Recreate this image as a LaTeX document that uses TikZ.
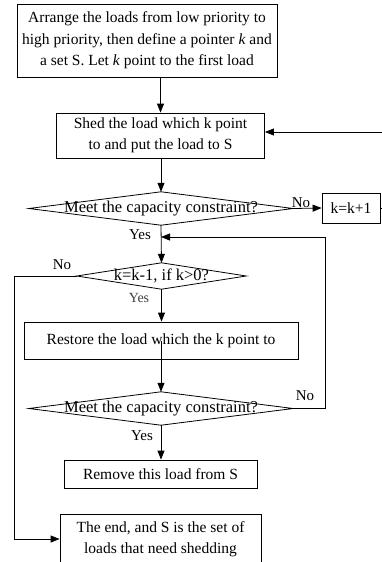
\documentclass[tikz,border=0pt]{standalone}
\usepackage{fontspec}
\setmainfont{Liberation Serif}
\usetikzlibrary{arrows.meta}
\tikzset{
  box/.style={draw, line width=0.8pt, inner sep=0pt, align=center, font=\fontsize{15.5}{21.5}\selectfont},
  dtext/.style={draw=none, inner sep=0pt, font=\fontsize{16.5}{21.5}\selectfont},
  lab/.style={inner sep=0pt, font=\fontsize{15}{16}\selectfont},
  lab2/.style={inner sep=0pt, text=black!75, font=\fontsize{14}{15}\selectfont},
  conn/.style={line width=0.8pt},
  arr/.style={line width=0.8pt, -{Triangle[length=9pt,width=7pt]}},
  dia/.style={draw, line width=0.8pt}
}
\begin{document}
\begin{tikzpicture}[x=1pt,y=-1pt]
\path[use as bounding box, clip] (0,0) rectangle (382,562);
\fill[white] (0,0) rectangle (382,562);
% nodes
\node[box, minimum width=260pt, minimum height=73pt] (b1) at (147,40.5)
  {Arrange the loads from low priority to\\high priority, then define a pointer \textit{k} and\\a set S. Let \textit{k} point to the first load};
\node[box, minimum width=208pt, minimum height=45pt] (b2) at (160.5,135.5)
  {Shed the load which k point\\to and put the load to S};
\node[dtext, minimum width=264pt, minimum height=33pt] (d1) at (161,208.5) {Meet the capacity constraint?};
\node[box, minimum width=58pt, minimum height=30pt] (b3) at (351,208) {k=k+1};
\node[dtext, minimum width=169pt, minimum height=26pt] (d2) at (161.5,276) {k=k-1, if k>0?};
\node[box, minimum width=274pt, minimum height=37pt] (b4) at (161,340.5) {Restore the load which the k point to};
\node[dtext, minimum width=264pt, minimum height=33pt] (d3) at (161,408.5) {Meet the capacity constraint?};
\node[box, minimum width=193pt, minimum height=28pt] (b5) at (160.5,474) {Remove this load from S};
\node[box, minimum width=201pt, minimum height=50pt] (b6) at (160.5,539) {The end, and S is the set of\\loads that need shedding};
% diamonds
\draw[dia] (d1.west) -- (d1.north) -- (d1.east) -- (d1.south) -- cycle;
\draw[dia] (d2.west) -- (d2.north) -- (d2.east) -- (d2.south) -- cycle;
\draw[dia] (d3.west) -- (d3.north) -- (d3.east) -- (d3.south) -- cycle;
% coordinates
\coordinate (rtop) at (392,132);
\coordinate (rbot) at (392,208);
\coordinate (loopR) at (325,237);
\coordinate (loopL) at (14,276);
% labels
\node[lab] (no1) at (301,203) {No};
\node[lab] (yes1) at (140,235) {Yes};
\node[lab] (no2) at (62,265) {No};
\node[lab2] (yes2) at (139,298) {Yes};
\node[lab] (no3) at (305,396) {No};
\node[lab] (yes3) at (142,436) {Yes};
% connectors
\draw[arr] (b2.north |- b1.south) -- (b2.north);
\draw[arr] (b2.south -| d1.north) -- (d1.north);
\draw[arr] (d1.east) -- (b3.west);
\draw[conn] (b3.east) -- (rbot);
\draw[arr] (rtop) -- (rtop -| b2.east);
\draw[arr] (d1.south) -- (d2.north);
\draw[arr] (d2.south) -- (b4.north -| d2.south);
\draw[arr] (b4.center -| d3.north) -- (d3.north);
\draw[arr] (d3.east) -| (loopR) -- (loopR -| d1.south);
\draw[arr] (d3.south) -- (b5.north -| d3.south);
\draw[conn] (d2.west) -- (loopL);
\draw[arr] (loopL) |- (b6.west);
\end{tikzpicture}
\end{document}
